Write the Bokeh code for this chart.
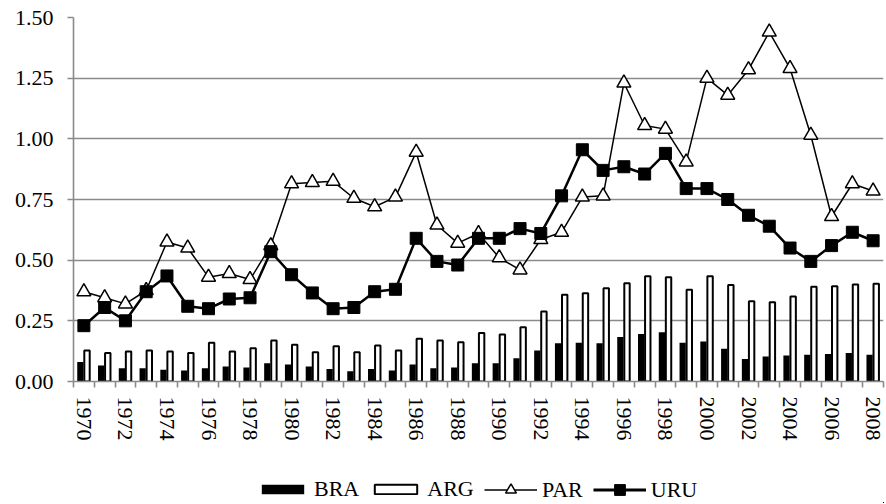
from bokeh.plotting import figure
from bokeh.layouts import column
from bokeh.models import (Range1d, FixedTicker, NumeralTickFormatter, Legend,
                          LegendItem, ColumnDataSource)
from bokeh.transform import dodge
from bokeh.embed import file_html
from bokeh.resources import INLINE

years = [1970, 1971, 1972, 1973, 1974, 1975, 1976, 1977, 1978, 1979,
         1980, 1981, 1982, 1983, 1984, 1985, 1986, 1987, 1988, 1989,
         1990, 1991, 1992, 1993, 1994, 1995, 1996, 1997, 1998, 1999,
         2000, 2001, 2002, 2003, 2004, 2005, 2006, 2007, 2008]
bra = [0.080, 0.066, 0.055, 0.055, 0.048, 0.045, 0.055, 0.062, 0.058, 0.075,
       0.070, 0.062, 0.052, 0.042, 0.052, 0.045, 0.070, 0.055, 0.058, 0.075,
       0.075, 0.096, 0.128, 0.158, 0.160, 0.158, 0.183, 0.196, 0.203, 0.160,
       0.165, 0.135, 0.093, 0.103, 0.107, 0.110, 0.113, 0.117, 0.110]
arg = [0.128, 0.117, 0.124, 0.128, 0.124, 0.117, 0.160, 0.124, 0.137, 0.169,
       0.151, 0.121, 0.145, 0.121, 0.148, 0.128, 0.176, 0.169, 0.162, 0.200,
       0.194, 0.224, 0.288, 0.358, 0.364, 0.384, 0.405, 0.434, 0.430, 0.378,
       0.434, 0.398, 0.331, 0.327, 0.350, 0.390, 0.393, 0.400, 0.403]
par = [0.370, 0.345, 0.320, 0.375, 0.575, 0.550, 0.430, 0.445, 0.420, 0.560,
       0.815, 0.820, 0.825, 0.755, 0.720, 0.760, 0.945, 0.645, 0.570, 0.610,
       0.510, 0.460, 0.585, 0.615, 0.760, 0.765, 1.230, 1.055, 1.040, 0.905,
       1.250, 1.180, 1.285, 1.440, 1.290, 1.015, 0.680, 0.815, 0.785]
uru = [0.230, 0.305, 0.250, 0.370, 0.435, 0.310, 0.300, 0.340, 0.345, 0.535,
       0.440, 0.365, 0.300, 0.305, 0.370, 0.380, 0.590, 0.495, 0.480, 0.590,
       0.590, 0.630, 0.610, 0.765, 0.955, 0.870, 0.885, 0.855, 0.940, 0.795,
       0.795, 0.750, 0.685, 0.640, 0.550, 0.495, 0.560, 0.615, 0.580]
series_names = ["BRA", "ARG", "PAR", "URU"]
y_ticks = [0.0, 0.25, 0.5, 0.75, 1.0, 1.25, 1.5]
labelled_years = years[::2]

FONT = "Liberation Serif"
FS = "22px"
GREY = "#8a8a8a"

src = ColumnDataSource(dict(year=years, bra=bra, arg=arg, par=par, uru=uru))

# ---------------- main chart ----------------
p = figure(width=886, height=447, output_backend="svg", toolbar_location=None,
           x_range=Range1d(years[0] - 0.5, years[-1] + 0.5),
           y_range=Range1d(0, 1.5),
           min_border_left=73, min_border_right=3, min_border_top=17,
           min_border_bottom=66)
p.outline_line_color = None
p.xgrid.grid_line_color = None
p.ygrid.grid_line_color = GREY
p.ygrid.grid_line_width = 1.6
p.ygrid.ticker = FixedTicker(ticks=y_ticks)

p.vbar(x=dodge("year", -0.17, range=p.x_range), top="bra", width=0.3,
       source=src, fill_color="black", line_color=None)
p.vbar(x=dodge("year", 0.15, range=p.x_range), top="arg", width=0.26,
       source=src, fill_color="white", line_color="black", line_width=2)
p.line("year", "par", source=src, line_color="black", line_width=1.5)
p.scatter("year", "par", source=src, marker="triangle", size=14,
          fill_color="white", line_color="black", line_width=1.5)
p.line("year", "uru", source=src, line_color="black", line_width=2.5)
p.scatter("year", "uru", source=src, marker="square", size=12,
          fill_color="black", line_color="black")

yax = p.yaxis[0]
yax.ticker = FixedTicker(ticks=y_ticks)
yax.formatter = NumeralTickFormatter(format="0.00")
yax.axis_line_color = GREY
yax.axis_line_width = 1.6
yax.major_tick_line_color = GREY
yax.major_tick_line_width = 1.6
yax.major_tick_out = 6
yax.major_tick_in = 0
yax.minor_tick_line_color = None
yax.major_label_standoff = 14
yax.major_label_text_font = FONT
yax.major_label_text_font_size = FS
yax.major_label_text_color = "black"

xax = p.xaxis[0]
xax.ticker = FixedTicker(ticks=labelled_years,
                         minor_ticks=[y - 0.5 for y in years] + [years[-1] + 0.5])
xax.major_label_overrides = {y: str(y) for y in labelled_years}
xax.axis_line_color = GREY
xax.axis_line_width = 1.6
xax.major_tick_line_color = None
xax.major_tick_out = 6
xax.major_tick_in = 0
xax.minor_tick_line_color = GREY
xax.minor_tick_line_width = 1.6
xax.minor_tick_out = 6
xax.minor_tick_in = 0
xax.major_label_orientation = "vertical"
xax.major_label_standoff = 9
xax.major_label_text_font = FONT
xax.major_label_text_font_size = FS
xax.major_label_text_color = "black"

# ---------------- legend strip ----------------
# The legend's sample glyphs use the real data, which lies outside this
# strip's ranges, so only the legends themselves are visible here.
q = figure(width=886, height=56, output_backend="svg", toolbar_location=None,
           x_range=Range1d(0, 1), y_range=Range1d(5, 6),
           x_axis_type=None, y_axis_type=None,
           min_border_left=0, min_border_right=0, min_border_top=0,
           min_border_bottom=0)
q.outline_line_color = None
q.xgrid.grid_line_color = None
q.ygrid.grid_line_color = None
l_bra = q.vbar(x="year", top="bra", width=0.3, source=src,
               fill_color="black", line_color=None)
l_arg = q.vbar(x="year", top="arg", width=0.3, source=src,
               fill_color="white", line_color="black", line_width=2)
l_par_l = q.line("year", "par", source=src, line_color="black", line_width=1.5)
l_par_m = q.scatter("year", "par", source=src, marker="triangle", size=11,
                    fill_color="white", line_color="black", line_width=1.5)
l_uru_l = q.line("year", "uru", source=src, line_color="black", line_width=3)
l_uru_m = q.scatter("year", "uru", source=src, marker="square", size=12,
                    fill_color="black", line_color="black")

common = dict(orientation="horizontal", glyph_width=53, label_standoff=5,
              spacing=10, padding=1, margin=0, border_line_color=None,
              background_fill_alpha=0, label_text_font=FONT,
              label_text_font_size=FS, label_text_color="black")

legend_bars = Legend(items=[LegendItem(label=series_names[0], renderers=[l_bra]),
                            LegendItem(label=series_names[1], renderers=[l_arg])],
                     location=(183, 1), glyph_height=12, **common)
legend_lines = Legend(items=[LegendItem(label=series_names[2], renderers=[l_par_l, l_par_m]),
                             LegendItem(label=series_names[3], renderers=[l_uru_l, l_uru_m])],
                      location=(411, 0), glyph_height=27, **common)
q.add_layout(legend_bars, "center")
q.add_layout(legend_lines, "center")

layout = column(p, q, spacing=0)
open("out.html", "w").write(file_html(layout, INLINE))
